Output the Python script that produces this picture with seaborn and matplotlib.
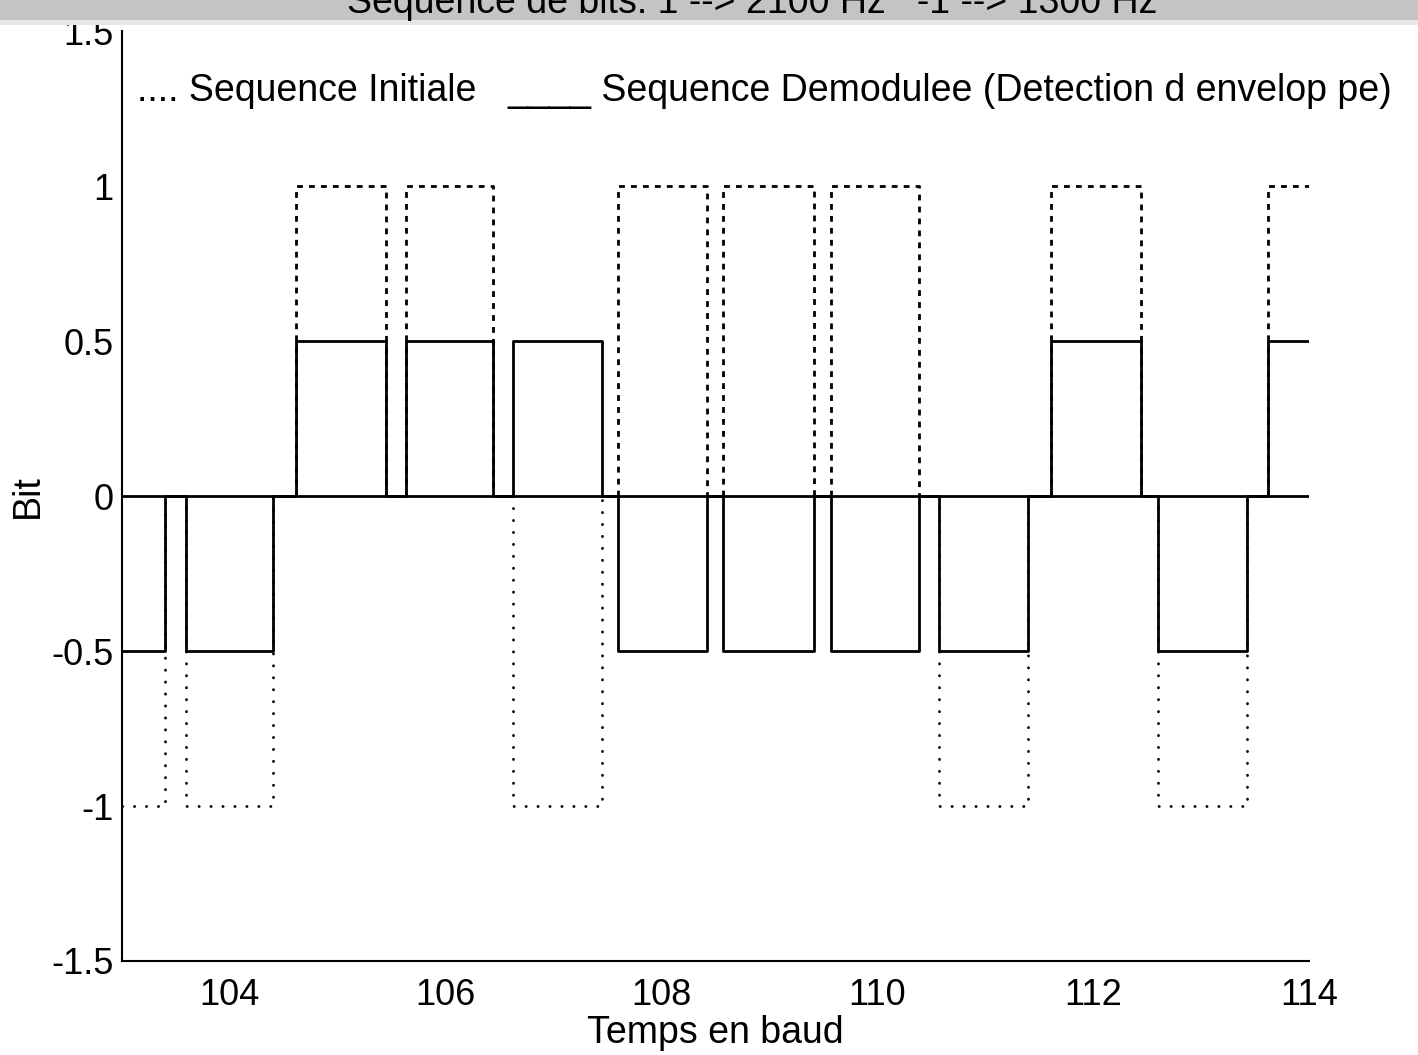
import numpy as np
import pandas as pd
import matplotlib
matplotlib.use("Agg")
import matplotlib.pyplot as plt
import seaborn as sns
from matplotlib.patches import Rectangle

# ---------------- data ----------------
bit_index = [103, 104, 105, 106, 107, 108, 109, 110, 111, 112, 113, 114]
pulse_start = [103.00, 103.59, 104.61, 105.63, 106.62, 107.60,
               108.57, 109.57, 110.57, 111.61, 112.60, 113.62]
pulse_end = [103.40, 104.40, 105.45, 106.44, 107.45, 108.42,
             109.41, 110.39, 111.40, 112.44, 113.43, 114.00]
initial_bits = [-1, -1, 1, 1, -1, 1, 1, 1, -1, 1, -1, 1]
demod_levels = [-0.5, -0.5, 0.5, 0.5, 0.5, -0.5, -0.5, -0.5, -0.5, 0.5, -0.5, 0.5]
baseline_x = [103.0, 114.0]
baseline_y = [0.0, 0.0]

x_range = [103, 114]
y_range = [-1.5, 1.5]
x_ticks = [104, 106, 108, 110, 112, 114]
x_tick_labels = ["104", "106", "108", "110", "112", "114"]
y_ticks = [-1.5, -1, -0.5, 0, 0.5, 1, 1.5]
y_tick_labels = ["-1.5", "-1", "-0.5", "0", "0.5", "1", "1.5"]

title_text = "Sequence de bits: 1 --> 2100 Hz   -1 --> 1300 Hz"
legend_initial = ".... Sequence Initiale"
legend_demod = "____ Sequence Demodulee (Detection d envelop pe)"
x_label = "Temps en baud"
y_label = "Bit"


def step_path(starts, ends, levels, x0, x1):
    xs, ys = [], []
    for s, e, v in zip(starts, ends, levels):
        if s > x0:
            xs += [s, s]
            ys += [0.0, v]
        else:
            xs.append(s)
            ys.append(v)
        if e < x1:
            xs += [e, e]
            ys += [v, 0.0]
        else:
            xs.append(e)
            ys.append(v)
    return xs, ys


# demodulated sequence: one continuous path
dx, dy = step_path(pulse_start, pulse_end, demod_levels, x_range[0], x_range[1])
demod_df = pd.DataFrame({"t": dx, "v": dy})

# initial sequence: one small path per pulse
rows = []
for k, (s, e, v) in enumerate(zip(pulse_start, pulse_end, initial_bits)):
    px, py = step_path([s], [e], [v], x_range[0], x_range[1])
    for a, b in zip(px, py):
        rows.append({"t": a, "v": b, "pulse": k, "sign": "pos" if v > 0 else "neg"})
init_df = pd.DataFrame(rows)
base_df = pd.DataFrame({"t": baseline_x, "v": baseline_y})

# ---------------- style ----------------
sns.set_style("white")
plt.rcParams["font.family"] = ["Liberation Sans", "DejaVu Sans"]
plt.rcParams["axes.linewidth"] = 1.5

fig = plt.figure(figsize=(14.18, 10.55), dpi=100)
fig.patch.set_facecolor("white")
ax = fig.add_axes([0.0860, 0.0891, 0.8371, 0.8815])
ax.set_facecolor("white")

# scanner band at the top of the page
fig.patches.append(Rectangle((0, 1 - 20 / 1055), 1, 20 / 1055, transform=fig.transFigure,
                             facecolor="#c4c4c4", edgecolor="none", zorder=0))
fig.patches.append(Rectangle((0, 1 - 25 / 1055), 1, 5 / 1055, transform=fig.transFigure,
                             facecolor="#e6e6e6", edgecolor="none", zorder=0))

lw = 2.0
sns.lineplot(data=base_df, x="t", y="v", sort=False, estimator=None, ax=ax,
             color="black", linewidth=lw)
sns.lineplot(data=demod_df, x="t", y="v", sort=False, estimator=None, ax=ax,
             color="black", linewidth=lw)
sns.lineplot(data=init_df[init_df["sign"] == "neg"], x="t", y="v", units="pulse",
             sort=False, estimator=None, ax=ax, color="black", linewidth=2.0,
             linestyle=(0, (0.1, 4.2)), dash_capstyle="round")
sns.lineplot(data=init_df[init_df["sign"] == "pos"], x="t", y="v", units="pulse",
             sort=False, estimator=None, ax=ax, color="black", linewidth=2.0,
             linestyle=(0, (2.1, 2.2)))

ax.set_xlim(x_range)
ax.set_ylim(y_range)
ax.set_xticks(x_ticks)
ax.set_xticklabels(x_tick_labels)
ax.set_yticks(y_ticks)
ax.set_yticklabels(y_tick_labels)
ax.tick_params(axis="x", direction="in", length=10, width=1.5, pad=12,
               labelsize=26, colors="black")
ax.tick_params(axis="y", direction="in", length=9, width=1.5, pad=6,
               labelsize=26, colors="black")
for side in ["top", "right"]:
    ax.spines[side].set_visible(False)
for side in ["left", "bottom"]:
    ax.spines[side].set_color("black")
    ax.spines[side].set_linewidth(1.5)

ax.set_xlabel(x_label, fontsize=27, labelpad=2, color="black")
ax.set_ylabel(y_label, fontsize=27, labelpad=4, color="black")

ax.text(103.14, 1.275, legend_initial, fontsize=27, va="baseline", ha="left",
        color="black", clip_on=False)
ax.text(106.57, 1.275, legend_demod, fontsize=27, va="baseline", ha="left",
        color="black", clip_on=False)

fig.text(1157 / 1418, 1 - 13 / 1055, title_text, fontsize=27, ha="right",
         va="baseline", color="black", zorder=5)

fig.savefig("out.png", dpi=100, facecolor="white")
